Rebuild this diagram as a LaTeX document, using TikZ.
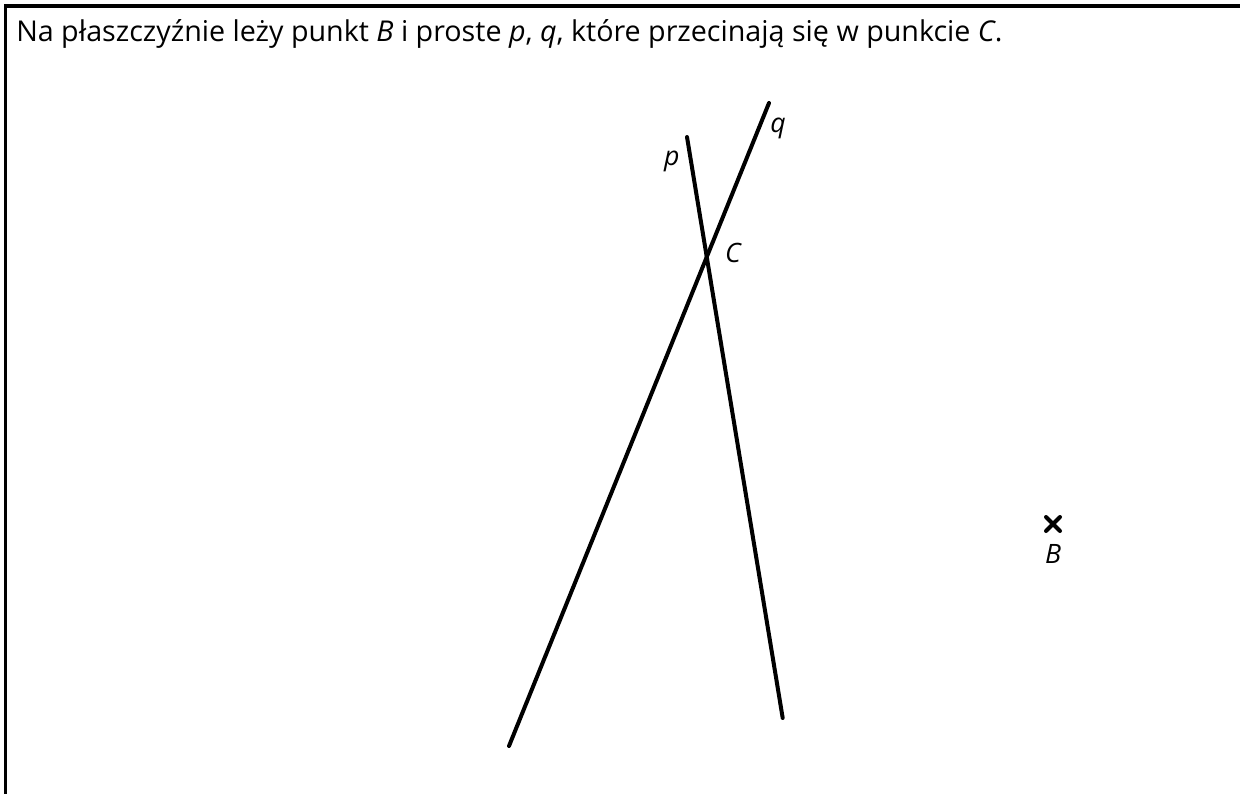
\documentclass[tikz,border=0pt]{standalone}
\usepackage{fontspec}
\setmainfont{Open Sans}
\usetikzlibrary{positioning,calc}
\begin{document}
\begin{tikzpicture}[x=0.75pt,y=-0.75pt,line/.style={line width=3pt,line cap=round},lbl/.style={font=\fontsize{20}{24}\selectfont\itshape,inner sep=0pt}]
\useasboundingbox (0,0) rectangle (1240,794);
\draw[line width=2.4pt] (1240,6) -- (5.3,6) -- (5.3,794);
\node[anchor=base west,inner sep=0pt,font=\fontsize{21.5}{24}\selectfont](title) at (16,41)
 {Na płaszczyźnie leży punkt \textit{B} i proste \textit{p}, \textit{q}, które przecinają się w punkcie \textit{C}.};
\coordinate (ptop) at (687,137);\coordinate (pbot) at (782.7,718);
\coordinate (qtop) at (769,103);\coordinate (qbot) at (509,746);
\draw[line] (ptop) -- (pbot);
\draw[line] (qtop) -- (qbot);
\node[lbl](plbl) at (671.7,161.7){p};
\node[lbl](qlbl) at (778,128){q};
\node[lbl](clbl) at (733,253){C};
\coordinate (b) at (1053,524);
\draw[line] ($(b)+(-7,-7)$) -- ($(b)+(7,7)$) ($(b)+(-7,7)$) -- ($(b)+(7,-7)$);
\node[lbl,below=15pt of b](blbl){B};
\end{tikzpicture}
\end{document}
